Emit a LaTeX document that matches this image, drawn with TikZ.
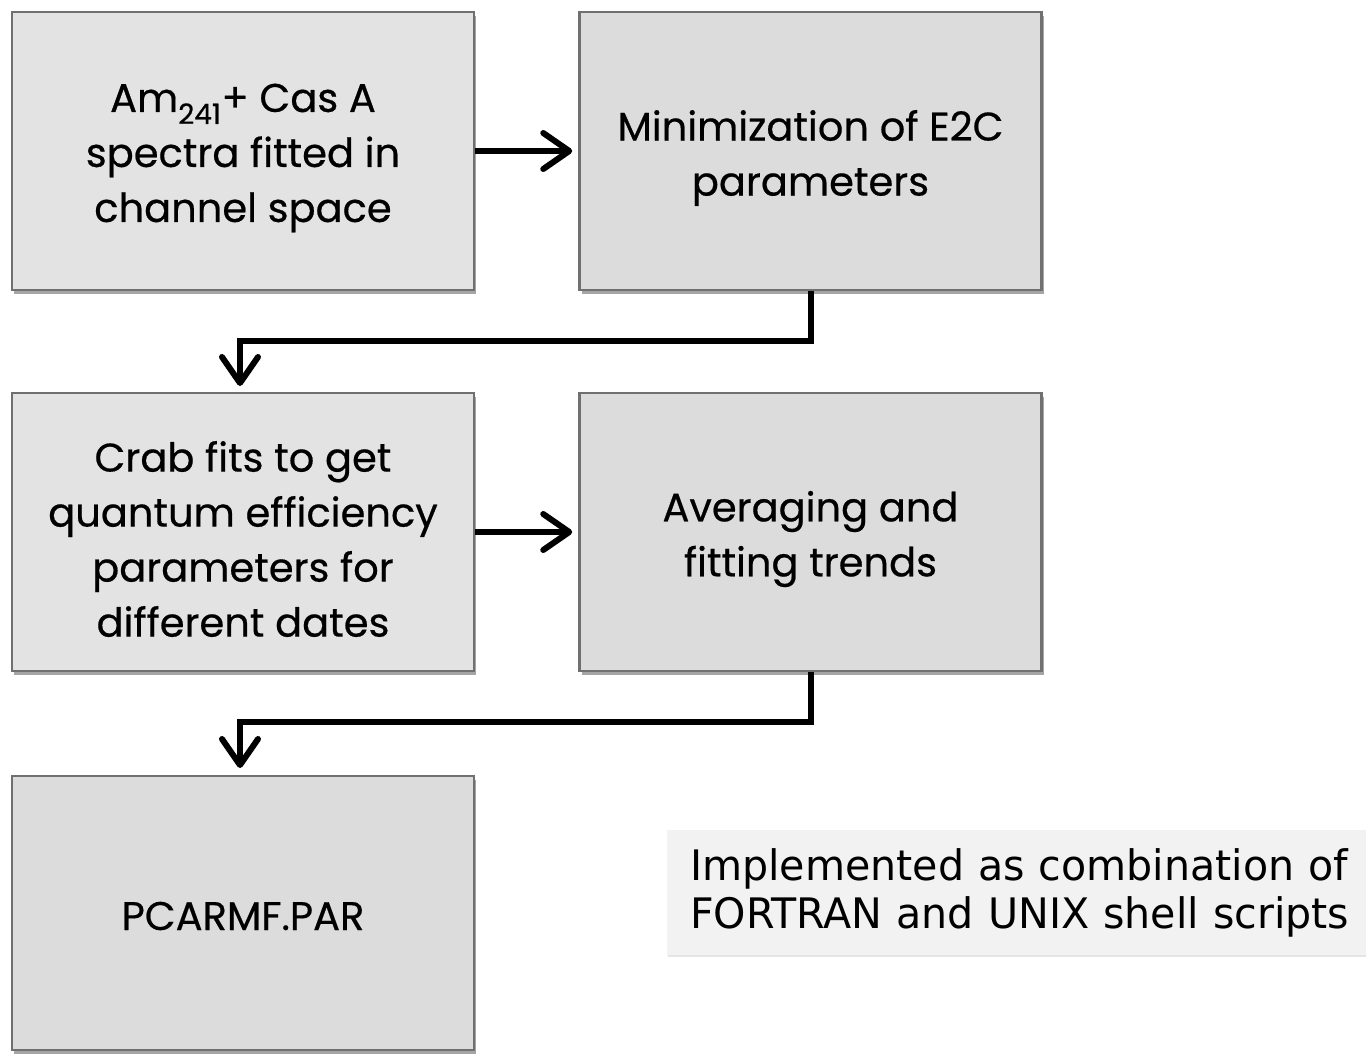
\documentclass[tikz,border=0pt]{standalone}
\usepackage{fontspec}
\setmainfont{Poppins}[FakeBold=0.5]
\newfontfamily\notefont[FakeStretch=0.98]{DejaVu Sans}
\usetikzlibrary{arrows.meta,shadows,positioning}
\definecolor{boxA}{HTML}{E3E3E3}
\definecolor{boxB}{HTML}{DBDCDB}
\definecolor{boxline}{HTML}{707070}
\definecolor{notebg}{HTML}{F2F2F2}
\tikzset{
  procbox/.style={draw=boxline, line width=2.5pt, minimum width=462pt, minimum height=278pt,
    inner sep=0pt,
    drop shadow={shadow xshift=2pt, shadow yshift=-4pt, opacity=0.5, fill=black!70}},
  proctext/.style={align=center, inner sep=0pt, yshift=-7pt, font=\fontsize{40}{55}\selectfont},
  flow/.style={line width=6pt, -{Straight Barb[length=26pt, width=36pt, line width=6pt, round]}},
}
\begin{document}
\begin{tikzpicture}[x=1pt,y=-1pt]
\useasboundingbox[fill=white] (0,0) rectangle (1366,1053);
\node[procbox, fill=boxA] (b1) at (243,151) {};
\node[procbox, fill=boxB] (b2) at (810.5,151) {};
\node[procbox, fill=boxA] (b3) at (243,532) {};
\node[procbox, fill=boxB] (b4) at (810.5,532) {};
\node[procbox, fill=boxB, minimum height=274pt] (b5) at (243,913) {};
\node[proctext] (b1t) at (b1) {Am\textsubscript{241}+ Cas A\\spectra fitted in\\channel space};
\node[proctext] (b2t) at (b2) {Minimization of E2C\\parameters};
\node[proctext] (b3t) at (b3) {Crab fits to get\\quantum efficiency\\parameters for\\different dates};
\node[proctext] (b4t) at (b4) {Averaging and\\fitting trends};
\node[proctext, yshift=4pt] (b5t) at (b5) {PCARMF.PAR};
\node[fill=notebg, minimum width=706pt, minimum height=125pt, inner xsep=23pt, inner ysep=0pt, align=left,
  font=\notefont\fontsize{42}{48}\selectfont, text width=660pt,
  drop shadow={shadow xshift=1pt, shadow yshift=-2pt, opacity=0.2}] (note) at (1020,892.5)
  {Implemented as combination of\\FORTRAN and UNIX shell scripts};
\draw[flow] (b1.east) -- ([xshift=-6pt]b2.west);
\draw[flow] (b3.east) -- ([xshift=-6pt]b4.west);
\coordinate (t1) at (240,386);
\coordinate (t2) at (240,768);
\draw[flow] (b2.south) |- (240,341) -- (t1);
\draw[flow] (b4.south) |- (240,722) -- (t2);
\end{tikzpicture}
\end{document}
